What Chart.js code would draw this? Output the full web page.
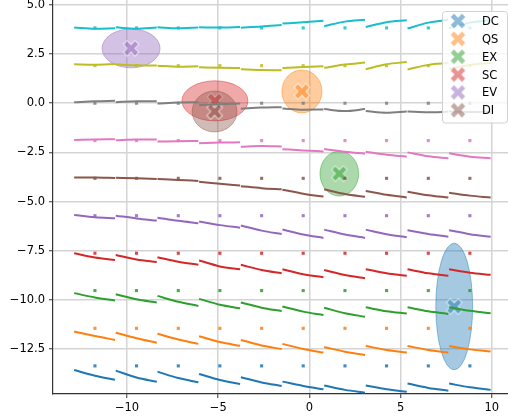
<!DOCTYPE html>
<html>
<head>
<meta charset="utf-8">
<script src="https://cdn.jsdelivr.net/npm/chart.js@4/dist/chart.umd.min.js"></script>
<style>
  body { margin: 0; background: #fff; }
</style>
</head>
<body>
<canvas id="chart" width="508" height="419"></canvas>
<script>
// tab10 colours, rows from bottom (blue) to top (cyan)
const rowColors = ['#1f77b4', '#ff7f0e', '#2ca02c', '#d62728', '#9467bd',
                   '#8c564b', '#e377c2', '#7f7f7f', '#bcbd22', '#17becf'];

// x positions of each short segment (start, middle, end)
const segStart = [-12.9, -10.62, -8.33, -6.05, -3.76, -1.48, 0.81, 3.09, 5.38, 7.66];
const segMid   = [-11.76, -9.48, -7.19, -4.91, -2.62, -0.34, 1.95, 4.23, 6.52, 8.8];
const segEnd   = [-10.66, -8.37, -6.09, -3.8, -1.52, 0.77, 3.05, 5.34, 7.62, 9.94];

const rowStart = [
  [-13.57, -13.6, -13.65, -13.77, -13.94, -14.16, -14.36, -14.36, -14.26, -14.26],
  [-11.61, -11.67, -11.73, -11.85, -12.04, -12.24, -12.4, -12.35, -12.35, -12.35],
  [-9.66, -9.72, -9.8, -9.95, -10.14, -10.34, -10.4, -10.38, -10.38, -10.38],
  [-7.63, -7.72, -7.83, -8.0, -8.22, -8.44, -8.48, -8.44, -8.45, -8.45],
  [-5.68, -5.72, -5.82, -6.02, -6.22, -6.42, -6.43, -6.43, -6.46, -6.46],
  [-3.78, -3.79, -3.86, -4.0, -4.22, -4.4, -4.38, -4.46, -4.5, -4.55],
  [-1.87, -1.88, -1.95, -2.03, -2.22, -2.34, -2.33, -2.47, -2.5, -2.55],
  [0.05, 0.05, -0.02, -0.1, -0.28, -0.27, -0.3, -0.4, -0.42, -0.42],
  [1.98, 1.98, 1.91, 1.83, 1.73, 1.79, 1.8, 1.73, 1.72, 1.75],
  [3.85, 3.86, 3.86, 3.86, 3.84, 4.05, 3.92, 3.88, 3.8, 3.82]
];
const rowMid = [
  [-13.86, -13.95, -13.98, -14.08, -14.2, -14.38, -14.58, -14.55, -14.48, -14.45],
  [-11.84, -11.95, -12.02, -12.15, -12.32, -12.5, -12.64, -12.55, -12.55, -12.52],
  [-9.88, -9.97, -10.1, -10.25, -10.4, -10.6, -10.68, -10.58, -10.58, -10.56],
  [-7.85, -7.95, -8.06, -8.3, -8.48, -8.7, -8.74, -8.65, -8.65, -8.62],
  [-5.8, -5.86, -5.98, -6.2, -6.48, -6.68, -6.68, -6.66, -6.65, -6.66],
  [-3.78, -3.82, -3.9, -4.1, -4.32, -4.6, -4.62, -4.66, -4.68, -4.7],
  [-1.84, -1.85, -1.93, -2.0, -2.18, -2.4, -2.47, -2.62, -2.7, -2.72],
  [0.1, 0.1, 0.04, -0.05, -0.22, -0.33, -0.4, -0.48, -0.46, -0.45],
  [1.96, 1.93, 1.86, 1.8, 1.69, 1.84, 1.97, 1.98, 1.95, 1.95],
  [3.79, 3.79, 3.81, 3.85, 3.9, 4.12, 4.15, 4.12, 4.1, 4.1]
];
const rowEnd = [
  [-14.07, -14.17, -14.19, -14.28, -14.38, -14.55, -14.72, -14.67, -14.62, -14.58],
  [-12.04, -12.18, -12.24, -12.34, -12.5, -12.68, -12.81, -12.68, -12.68, -12.63],
  [-10.04, -10.14, -10.31, -10.43, -10.57, -10.77, -10.86, -10.7, -10.72, -10.68],
  [-7.97, -8.08, -8.22, -8.45, -8.65, -8.85, -8.9, -8.78, -8.78, -8.73],
  [-5.85, -5.97, -6.1, -6.33, -6.65, -6.85, -6.85, -6.82, -6.79, -6.79],
  [-3.8, -3.86, -3.95, -4.18, -4.38, -4.75, -4.76, -4.79, -4.8, -4.8],
  [-1.83, -1.85, -1.92, -1.99, -2.2, -2.45, -2.57, -2.72, -2.8, -2.8],
  [0.12, 0.1, 0.05, -0.02, -0.2, -0.32, -0.3, -0.42, -0.43, -0.43],
  [2.0, 1.92, 1.88, 1.79, 1.68, 1.88, 2.07, 2.1, 2.04, 2.05],
  [3.81, 3.85, 3.85, 3.88, 3.98, 4.2, 4.25, 4.22, 4.24, 4.22]
];
// little square markers, one per segment centre
const markerY = [-13.36, -11.45, -9.53, -7.63, -5.72, -3.82, -1.9, 0.0, 1.91, 3.83];

// labelled groups: X marker + ellipse
const groupLabels = ['DC', 'QS', 'EX', 'SC', 'EV', 'DI'];
const groupColors = ['#1f77b4', '#ff7f0e', '#2ca02c', '#d62728', '#9467bd', '#8c564b'];
const groupX = [7.94, -0.41, 1.64, -5.18, -9.78, -5.2];
const groupY = [-10.34, 0.6, -3.58, 0.12, 2.79, -0.42];
const ellipseRx = [1.01, 1.1, 1.06, 1.81, 1.59, 1.23];
const ellipseRy = [3.22, 1.09, 1.14, 1.02, 0.99, 1.04];

const xTicks = [-10, -5, 0, 5, 10];
const yTicks = [5, 2.5, 0, -2.5, -5, -7.5, -10, -12.5];

Chart.defaults.font.family = 'DejaVu Sans';
Chart.defaults.font.size = 11.5;
Chart.defaults.color = '#000';

function rgba(hex, a) {
  let n = parseInt(hex.slice(1), 16);
  return `rgba(${(n >> 16) & 255}, ${(n >> 8) & 255}, ${n & 255}, ${a})`;
}

// filled "X" marker like matplotlib's
function makeX(color) {
  let c = document.createElement('canvas');
  c.width = 20; c.height = 20;
  let g = c.getContext('2d');
  let r = 8.3, t = 2.7;
  let pts = [[t, r], [t, t], [r, t], [r, -t], [t, -t], [t, -r],
             [-t, -r], [-t, -t], [-r, -t], [-r, t], [-t, t], [-t, r]];
  g.translate(10, 10);
  g.rotate(Math.PI / 4);
  g.beginPath();
  pts.forEach((p, i) => i ? g.lineTo(p[0], p[1]) : g.moveTo(p[0], p[1]));
  g.closePath();
  g.fillStyle = rgba(color, 0.5);
  g.fill();
  g.strokeStyle = 'rgba(255,255,255,0.7)';
  g.lineWidth = 1;
  g.stroke();
  return c;
}
const xImages = groupColors.map(makeX);

let datasets = [];
// X markers (drawn under the lines, ellipse drawn just before each)
groupLabels.forEach((lab, i) => {
  datasets.push({
    label: lab,
    ellipseIdx: i,
    data: [{ x: groupX[i], y: groupY[i] }],
    pointStyle: xImages[i],
    pointRadius: 8,
    order: 20 - i
  });
});
// line segments
rowColors.forEach((col, r) => {
  segStart.forEach((sx, k) => {
    datasets.push({
      data: [
        { x: sx, y: rowStart[r][k] },
        { x: segMid[k], y: rowMid[r][k] },
        { x: segEnd[k], y: rowEnd[r][k] }
      ],
      showLine: true,
      borderColor: col,
      borderWidth: 2,
      cubicInterpolationMode: 'monotone',
      pointRadius: 0,
      order: 1
    });
  });
  datasets.push({
    data: segMid.map(mx => ({ x: mx, y: markerY[r] })),
    pointStyle: 'rect',
    pointRadius: 2.2,
    backgroundColor: rgba(col, 0.85),
    borderWidth: 0,
    order: 1
  });
});

const ellipsePlugin = {
  id: 'ellipses',
  beforeDatasetDraw(chart, args) {
    let ds = chart.data.datasets[args.index];
    if (ds.ellipseIdx === undefined) return;
    let i = ds.ellipseIdx;
    let xs = chart.scales.x, ys = chart.scales.y;
    let cx = xs.getPixelForValue(groupX[i]);
    let cy = ys.getPixelForValue(groupY[i]);
    let rx = Math.abs(xs.getPixelForValue(groupX[i] + ellipseRx[i]) - cx);
    let ry = Math.abs(ys.getPixelForValue(groupY[i] + ellipseRy[i]) - cy);
    let ctx = chart.ctx;
    ctx.save();
    ctx.beginPath();
    ctx.ellipse(cx, cy, rx, ry, 0, 0, Math.PI * 2);
    ctx.fillStyle = rgba(groupColors[i], 0.4);
    ctx.fill();
    ctx.strokeStyle = rgba(groupColors[i], 0.45);
    ctx.lineWidth = 1;
    ctx.stroke();
    ctx.restore();
  }
};

const legendPlugin = {
  id: 'boxLegend',
  afterDraw(chart) {
    let ctx = chart.ctx;
    let area = chart.chartArea;
    let w = 65, h = 111.5;
    let left = area.right - w - 1, top = area.top + 11;
    ctx.save();
    ctx.beginPath();
    ctx.roundRect(left + 0.5, top + 0.5, w, h, 3);
    ctx.fillStyle = 'rgba(255,255,255,0.8)';
    ctx.fill();
    ctx.strokeStyle = '#d0d0d0';
    ctx.lineWidth = 1;
    ctx.stroke();
    ctx.font = '11.5px "DejaVu Sans"';
    ctx.fillStyle = '#000';
    ctx.textBaseline = 'middle';
    groupLabels.forEach((lab, i) => {
      let y = top + 10 + i * 17.85;
      ctx.drawImage(xImages[i], left + 16 - 10, y - 10);
      ctx.fillText(lab, left + 40, y + 1);
    });
    ctx.restore();
  }
};

function fmtMinus(s) { return s.replace('-', '\u2212'); }

new Chart(document.getElementById('chart'), {
  type: 'scatter',
  data: { datasets: datasets },
  options: {
    responsive: false,
    animation: false,
    layout: { padding: 0, autoPadding: false },
    plugins: { legend: { display: false }, tooltip: { enabled: false } },
    scales: {
      x: {
        type: 'linear',
        min: -14.06,
        max: 10.89,
        afterBuildTicks: s => { s.ticks = xTicks.map(v => ({ value: v })); },
        afterFit: s => { s.height = 25; s.paddingLeft = 0; s.paddingRight = 0; },
        ticks: { callback: v => fmtMinus(String(v)), padding: 3, maxRotation: 0, autoSkip: false },
        grid: { color: '#d4d4d4', lineWidth: 1.5, tickLength: 4, tickColor: '#333', tickWidth: 1 },
        border: { display: true, color: '#333', width: 1.2 }
      },
      y: {
        type: 'linear',
        min: -14.79,
        max: 5.25,
        afterBuildTicks: s => { s.ticks = yTicks.map(v => ({ value: v })); },
        afterFit: s => { s.width = 53; s.paddingTop = 0; s.paddingBottom = 0; },
        ticks: { callback: v => fmtMinus(v.toFixed(1)), padding: 4, autoSkip: false },
        grid: { color: '#d4d4d4', lineWidth: 1.5, tickLength: 4, tickColor: '#333', tickWidth: 1 },
        border: { display: true, color: '#333', width: 1.2 }
      }
    }
  },
  plugins: [ellipsePlugin, legendPlugin]
});
</script>
</body>
</html>
